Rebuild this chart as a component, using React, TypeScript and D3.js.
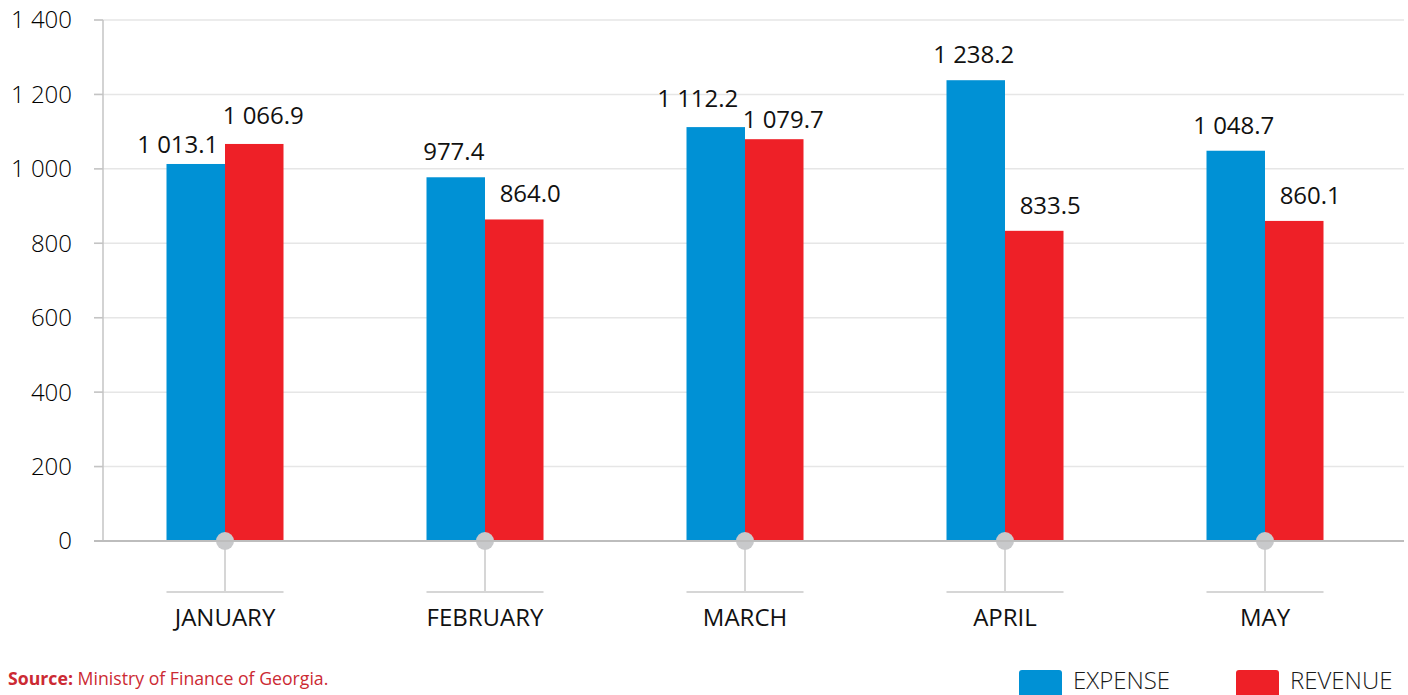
import React, { useEffect, useRef } from 'react';
import * as d3 from 'd3';

const months = ['JANUARY', 'FEBRUARY', 'MARCH', 'APRIL', 'MAY'];
const expense = [1013.1, 977.4, 1112.2, 1238.2, 1048.7];
const revenue = [1066.9, 864.0, 1079.7, 833.5, 860.1];
const yTicks = [0, 200, 400, 600, 800, 1000, 1200, 1400];
const seriesNames = ['EXPENSE', 'REVENUE'];
const seriesColors = ['#0091d5', '#ee2027'];

// "1 013.1" style: space as thousands separator
const fmtValue = (v: number) => d3.format(',.1f')(v).replace(/,/g, ' ');
const fmtTick = (v: number) => d3.format(',')(v).replace(/,/g, ' ');

const App: React.FC = () => {
    const ref = useRef<SVGSVGElement | null>(null);

    useEffect(() => {
        if (!ref.current) return;
        const width = 1408;
        const height = 695;
        const font = "'Open Sans', 'DejaVu Sans', sans-serif";

        const svg = d3.select(ref.current);
        svg.selectAll('*').remove();
        svg.attr('width', width).attr('height', height).style('font-family', font);

        const x = d3.scaleBand<string>().domain(months).range([95, 1395]).padding(0);
        const y = d3.scaleLinear().domain([0, 1400]).range([541, 20]);
        const half = x.bandwidth() * 0.225;
        const x1 = d3.scaleBand<string>().domain(seriesNames).range([-half, half]).padding(0);

        const axisX = 103;
        const rightX = 1404;

        // gridlines
        svg.append('g')
            .selectAll('line')
            .data(yTicks.filter(t => t > 0))
            .enter()
            .append('line')
            .attr('x1', axisX - 9)
            .attr('x2', rightX)
            .attr('y1', d => y(d))
            .attr('y2', d => y(d))
            .attr('stroke', '#e6e6e6')
            .attr('stroke-width', 1.5);

        // tick marks on the axis
        svg.append('g')
            .selectAll('line')
            .data(yTicks)
            .enter()
            .append('line')
            .attr('x1', axisX - 9)
            .attr('x2', axisX)
            .attr('y1', d => y(d))
            .attr('y2', d => y(d))
            .attr('stroke', '#c4c4c4')
            .attr('stroke-width', 1.5);

        // y tick labels
        svg.append('g')
            .selectAll('text')
            .data(yTicks)
            .enter()
            .append('text')
            .attr('x', 72)
            .attr('y', d => y(d))
            .attr('dy', '0.35em')
            .attr('text-anchor', 'end')
            .attr('font-size', 24)
            .attr('font-weight', 300)
            .attr('fill', '#000')
            .text(d => fmtTick(d));

        // bars
        const groups = svg.append('g')
            .selectAll('g')
            .data(months.map((m, i) => ({ month: m, values: [expense[i], revenue[i]] })))
            .enter()
            .append('g')
            .attr('transform', d => `translate(${(x(d.month) as number) + x.bandwidth() / 2},0)`);

        groups.selectAll('rect')
            .data(d => d.values.map((v, j) => ({ key: seriesNames[j], value: v, color: seriesColors[j] })))
            .enter()
            .append('rect')
            .attr('x', d => x1(d.key) as number)
            .attr('width', x1.bandwidth())
            .attr('y', d => y(d.value))
            .attr('height', d => y(0) - y(d.value))
            .attr('fill', d => d.color);

        // value labels - push apart when the two labels of a month would collide
        groups.selectAll('text.value')
            .data(d => {
                const close = Math.abs(y(d.values[0]) - y(d.values[1])) < 30;
                const tallest = d.values[0] >= d.values[1] ? 0 : 1;
                return d.values.map((v, j) => {
                    let dx = j === 0 ? -2 : 16;
                    let dy = -17;
                    if (close) {
                        dx = j === 0 ? -18 : 9;
                        dy = j === tallest ? -20 : -11;
                    }
                    return { key: seriesNames[j], value: v, dx, dy };
                });
            })
            .enter()
            .append('text')
            .attr('class', 'value')
            .attr('x', d => (x1(d.key) as number) + x1.bandwidth() / 2 + d.dx)
            .attr('y', d => y(d.value) + d.dy)
            .attr('text-anchor', 'middle')
            .attr('font-size', 24)
            .attr('fill', '#111')
            .text(d => fmtValue(d.value));

        // axis lines
        svg.append('line')
            .attr('x1', axisX).attr('x2', axisX)
            .attr('y1', y(1400)).attr('y2', y(0))
            .attr('stroke', '#c4c4c4').attr('stroke-width', 1.5);
        svg.append('line')
            .attr('x1', axisX - 9).attr('x2', rightX)
            .attr('y1', y(0)).attr('y2', y(0))
            .attr('stroke', '#bdbdbd').attr('stroke-width', 2);

        // category markers: stem, bracket, dot, label
        groups.append('line')
            .attr('x1', 0).attr('x2', 0)
            .attr('y1', y(0)).attr('y2', 592)
            .attr('stroke', '#d6d6d6').attr('stroke-width', 2);
        groups.append('line')
            .attr('x1', -half).attr('x2', half)
            .attr('y1', 592).attr('y2', 592)
            .attr('stroke', '#d6d6d6').attr('stroke-width', 2);
        groups.append('circle')
            .attr('cx', 0).attr('cy', y(0))
            .attr('r', 9)
            .attr('fill', '#c8c9cb');
        groups.append('text')
            .attr('x', 0)
            .attr('y', 626)
            .attr('text-anchor', 'middle')
            .attr('font-size', 24)
            .attr('fill', '#111')
            .text(d => d.month);

        // source
        const src = svg.append('text')
            .attr('x', 8)
            .attr('y', 685)
            .attr('font-size', 17.7)
            .attr('fill', '#cc2a33');
        src.append('tspan').attr('font-weight', 700).text('Source:');
        src.append('tspan').text(' Ministry of Finance of Georgia.');

        // legend
        const legendX = [1019, 1236];
        const legend = svg.append('g')
            .selectAll('g')
            .data(seriesNames)
            .enter()
            .append('g')
            .attr('transform', (d, i) => `translate(${legendX[i]},670)`);
        legend.append('rect')
            .attr('width', 43)
            .attr('height', 30)
            .attr('rx', 3)
            .attr('fill', (d, i) => seriesColors[i]);
        legend.append('text')
            .attr('x', 54)
            .attr('y', 19)
            .attr('font-size', 24)
            .attr('font-weight', 300)
            .attr('fill', '#1a1a1a')
            .text(d => d);
    }, []);

    return (
        <svg
            ref={ref}
            style={{ position: 'absolute', left: 0, top: 0, display: 'block', background: '#fff' }}
        />
    );
};

export default App;
